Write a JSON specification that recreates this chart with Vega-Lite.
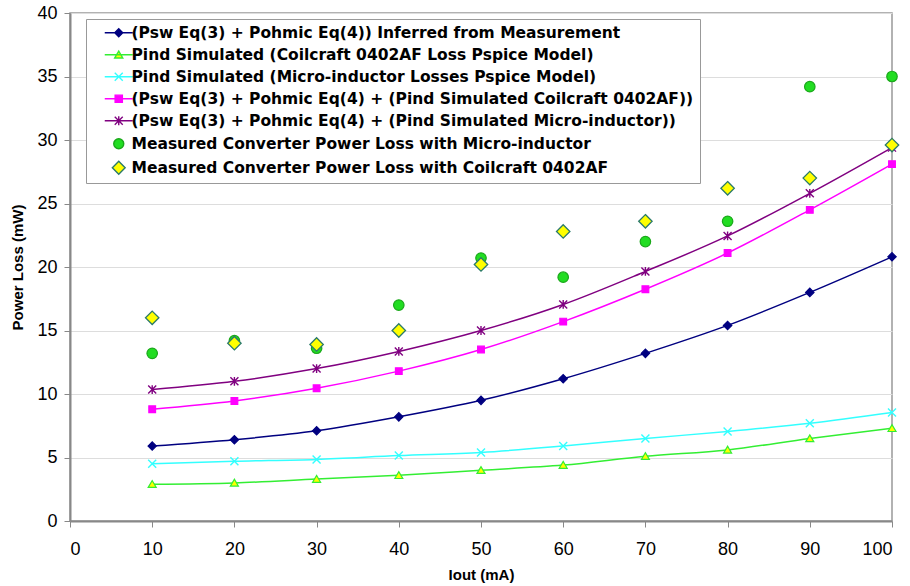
{
  "$schema": "https://vega.github.io/schema/vega-lite/v6.json",
  "width": 822,
  "height": 508,
  "autosize": {"type": "none"},
  "padding": {"left": 70, "top": 13, "right": 18, "bottom": 65},
  "background": "white",
  "config": {
    "font": "Liberation Sans",
    "view": {"stroke": "#999999", "strokeWidth": 1.5},
    "axis": {"labelFont": "Liberation Sans", "titleFont": "Liberation Sans", "labelColor": "#000000", "titleColor": "#000000"}
  },
  "data": {"values": [
    {"series": "(Psw Eq(3) + Pohmic Eq(4)) Inferred from Measurement", "x": 10, "y": 5.9},
    {"series": "(Psw Eq(3) + Pohmic Eq(4)) Inferred from Measurement", "x": 20, "y": 6.4},
    {"series": "(Psw Eq(3) + Pohmic Eq(4)) Inferred from Measurement", "x": 30, "y": 7.1},
    {"series": "(Psw Eq(3) + Pohmic Eq(4)) Inferred from Measurement", "x": 40, "y": 8.2},
    {"series": "(Psw Eq(3) + Pohmic Eq(4)) Inferred from Measurement", "x": 50, "y": 9.5},
    {"series": "(Psw Eq(3) + Pohmic Eq(4)) Inferred from Measurement", "x": 60, "y": 11.2},
    {"series": "(Psw Eq(3) + Pohmic Eq(4)) Inferred from Measurement", "x": 70, "y": 13.2},
    {"series": "(Psw Eq(3) + Pohmic Eq(4)) Inferred from Measurement", "x": 80, "y": 15.4},
    {"series": "(Psw Eq(3) + Pohmic Eq(4)) Inferred from Measurement", "x": 90, "y": 18.0},
    {"series": "(Psw Eq(3) + Pohmic Eq(4)) Inferred from Measurement", "x": 100, "y": 20.8},
    {"series": "Pind Simulated  (Coilcraft 0402AF Loss Pspice Model)", "x": 10, "y": 2.9},
    {"series": "Pind Simulated  (Coilcraft 0402AF Loss Pspice Model)", "x": 20, "y": 3.0},
    {"series": "Pind Simulated  (Coilcraft 0402AF Loss Pspice Model)", "x": 30, "y": 3.3},
    {"series": "Pind Simulated  (Coilcraft 0402AF Loss Pspice Model)", "x": 40, "y": 3.6},
    {"series": "Pind Simulated  (Coilcraft 0402AF Loss Pspice Model)", "x": 50, "y": 4.0},
    {"series": "Pind Simulated  (Coilcraft 0402AF Loss Pspice Model)", "x": 60, "y": 4.4},
    {"series": "Pind Simulated  (Coilcraft 0402AF Loss Pspice Model)", "x": 70, "y": 5.1},
    {"series": "Pind Simulated  (Coilcraft 0402AF Loss Pspice Model)", "x": 80, "y": 5.6},
    {"series": "Pind Simulated  (Coilcraft 0402AF Loss Pspice Model)", "x": 90, "y": 6.5},
    {"series": "Pind Simulated  (Coilcraft 0402AF Loss Pspice Model)", "x": 100, "y": 7.3},
    {"series": "Pind Simulated (Micro-inductor Losses Pspice Model)", "x": 10, "y": 4.5},
    {"series": "Pind Simulated (Micro-inductor Losses Pspice Model)", "x": 20, "y": 4.7},
    {"series": "Pind Simulated (Micro-inductor Losses Pspice Model)", "x": 30, "y": 4.85},
    {"series": "Pind Simulated (Micro-inductor Losses Pspice Model)", "x": 40, "y": 5.15},
    {"series": "Pind Simulated (Micro-inductor Losses Pspice Model)", "x": 50, "y": 5.4},
    {"series": "Pind Simulated (Micro-inductor Losses Pspice Model)", "x": 60, "y": 5.9},
    {"series": "Pind Simulated (Micro-inductor Losses Pspice Model)", "x": 70, "y": 6.5},
    {"series": "Pind Simulated (Micro-inductor Losses Pspice Model)", "x": 80, "y": 7.05},
    {"series": "Pind Simulated (Micro-inductor Losses Pspice Model)", "x": 90, "y": 7.7},
    {"series": "Pind Simulated (Micro-inductor Losses Pspice Model)", "x": 100, "y": 8.55},
    {"series": "(Psw Eq(3) + Pohmic Eq(4) + (Pind Simulated Coilcraft 0402AF))", "x": 10, "y": 8.8},
    {"series": "(Psw Eq(3) + Pohmic Eq(4) + (Pind Simulated Coilcraft 0402AF))", "x": 20, "y": 9.45},
    {"series": "(Psw Eq(3) + Pohmic Eq(4) + (Pind Simulated Coilcraft 0402AF))", "x": 30, "y": 10.45},
    {"series": "(Psw Eq(3) + Pohmic Eq(4) + (Pind Simulated Coilcraft 0402AF))", "x": 40, "y": 11.8},
    {"series": "(Psw Eq(3) + Pohmic Eq(4) + (Pind Simulated Coilcraft 0402AF))", "x": 50, "y": 13.5},
    {"series": "(Psw Eq(3) + Pohmic Eq(4) + (Pind Simulated Coilcraft 0402AF))", "x": 60, "y": 15.7},
    {"series": "(Psw Eq(3) + Pohmic Eq(4) + (Pind Simulated Coilcraft 0402AF))", "x": 70, "y": 18.25},
    {"series": "(Psw Eq(3) + Pohmic Eq(4) + (Pind Simulated Coilcraft 0402AF))", "x": 80, "y": 21.1},
    {"series": "(Psw Eq(3) + Pohmic Eq(4) + (Pind Simulated Coilcraft 0402AF))", "x": 90, "y": 24.5},
    {"series": "(Psw Eq(3) + Pohmic Eq(4) + (Pind Simulated Coilcraft 0402AF))", "x": 100, "y": 28.1},
    {"series": "(Psw Eq(3) + Pohmic Eq(4) + (Pind Simulated Micro-inductor))", "x": 10, "y": 10.35},
    {"series": "(Psw Eq(3) + Pohmic Eq(4) + (Pind Simulated Micro-inductor))", "x": 20, "y": 11.0},
    {"series": "(Psw Eq(3) + Pohmic Eq(4) + (Pind Simulated Micro-inductor))", "x": 30, "y": 12.0},
    {"series": "(Psw Eq(3) + Pohmic Eq(4) + (Pind Simulated Micro-inductor))", "x": 40, "y": 13.35},
    {"series": "(Psw Eq(3) + Pohmic Eq(4) + (Pind Simulated Micro-inductor))", "x": 50, "y": 15.0},
    {"series": "(Psw Eq(3) + Pohmic Eq(4) + (Pind Simulated Micro-inductor))", "x": 60, "y": 17.05},
    {"series": "(Psw Eq(3) + Pohmic Eq(4) + (Pind Simulated Micro-inductor))", "x": 70, "y": 19.65},
    {"series": "(Psw Eq(3) + Pohmic Eq(4) + (Pind Simulated Micro-inductor))", "x": 80, "y": 22.45},
    {"series": "(Psw Eq(3) + Pohmic Eq(4) + (Pind Simulated Micro-inductor))", "x": 90, "y": 25.8},
    {"series": "(Psw Eq(3) + Pohmic Eq(4) + (Pind Simulated Micro-inductor))", "x": 100, "y": 29.4},
    {"series": "Measured Converter Power Loss with Micro-inductor", "x": 10, "y": 13.2},
    {"series": "Measured Converter Power Loss with Micro-inductor", "x": 20, "y": 14.2},
    {"series": "Measured Converter Power Loss with Micro-inductor", "x": 30, "y": 13.6},
    {"series": "Measured Converter Power Loss with Micro-inductor", "x": 40, "y": 17.0},
    {"series": "Measured Converter Power Loss with Micro-inductor", "x": 50, "y": 20.7},
    {"series": "Measured Converter Power Loss with Micro-inductor", "x": 60, "y": 19.2},
    {"series": "Measured Converter Power Loss with Micro-inductor", "x": 70, "y": 22.0},
    {"series": "Measured Converter Power Loss with Micro-inductor", "x": 80, "y": 23.6},
    {"series": "Measured Converter Power Loss with Micro-inductor", "x": 90, "y": 34.2},
    {"series": "Measured Converter Power Loss with Micro-inductor", "x": 100, "y": 35.0},
    {"series": "Measured Converter Power Loss with Coilcraft 0402AF", "x": 10, "y": 16.0},
    {"series": "Measured Converter Power Loss with Coilcraft 0402AF", "x": 20, "y": 14.0},
    {"series": "Measured Converter Power Loss with Coilcraft 0402AF", "x": 30, "y": 13.9},
    {"series": "Measured Converter Power Loss with Coilcraft 0402AF", "x": 40, "y": 15.0},
    {"series": "Measured Converter Power Loss with Coilcraft 0402AF", "x": 50, "y": 20.2},
    {"series": "Measured Converter Power Loss with Coilcraft 0402AF", "x": 60, "y": 22.8},
    {"series": "Measured Converter Power Loss with Coilcraft 0402AF", "x": 70, "y": 23.6},
    {"series": "Measured Converter Power Loss with Coilcraft 0402AF", "x": 80, "y": 26.2},
    {"series": "Measured Converter Power Loss with Coilcraft 0402AF", "x": 90, "y": 27.0},
    {"series": "Measured Converter Power Loss with Coilcraft 0402AF", "x": 100, "y": 29.6}
  ]},
  "encoding": {
    "x": {"field": "x", "type": "quantitative", "title": "Iout (mA)",
      "scale": {"domain": [0, 100], "nice": false},
      "axis": {"values": [0,10,20,30,40,50,60,70,80,90,100], "grid": false, "domainColor": "#888888", "domainWidth": 2, "tickColor": "#888888", "tickSize": 6, "labelFontSize": 18, "labelPadding": 13, "titleFontSize": 15, "titleFontWeight": "bold", "titlePadding": 9}},
    "y": {"field": "y", "type": "quantitative", "title": "Power Loss (mW)",
      "scale": {"domain": [0, 40], "nice": false},
      "axis": {"values": [0,5,10,15,20,25,30,35,40], "grid": true, "gridColor": "#dddddd", "domainColor": "#888888", "domainWidth": 2, "tickColor": "#888888", "tickSize": 6, "labelFontSize": 18, "labelPadding": 7, "titleFontSize": 15, "titleFontWeight": "bold", "titlePadding": 11}}
  },
  "layer": [
    {
      "transform": [{"filter": {"not": {"field": "series", "oneOf": ["Measured Converter Power Loss with Micro-inductor", "Measured Converter Power Loss with Coilcraft 0402AF"]}}}],
      "mark": {"type": "line", "interpolate": "monotone", "strokeWidth": 1.5},
      "encoding": {
        "stroke": {"field": "series", "type": "nominal",
          "scale": {"domain": [
            "(Psw Eq(3) + Pohmic Eq(4)) Inferred from Measurement",
            "Pind Simulated  (Coilcraft 0402AF Loss Pspice Model)",
            "Pind Simulated (Micro-inductor Losses Pspice Model)",
            "(Psw Eq(3) + Pohmic Eq(4) + (Pind Simulated Coilcraft 0402AF))",
            "(Psw Eq(3) + Pohmic Eq(4) + (Pind Simulated Micro-inductor))",
            "Measured Converter Power Loss with Micro-inductor",
            "Measured Converter Power Loss with Coilcraft 0402AF"],
            "range": ["#000080", "#33ee33", "#33ffff", "#ff00ff", "#800080", "#1aa81a", "#2a7a6a"]},
          "legend": {"orient": "none", "legendX": 16, "legendY": 6, "title": null,
            "strokeColor": "#999999", "fillColor": "white", "padding": 6,
            "labelFont": "DejaVu Sans", "labelFontSize": 15.5, "labelFontWeight": "bold", "labelColor": "#000000",
            "labelLimit": 700, "rowPadding": 5, "symbolOffset": 19, "labelOffset": 5,
            "encode": {"symbols": {"update": {
              "size": {"value": 64},
              "strokeWidth": {"value": 1.4},
              "shape": {"signal": "indexof(datum.value,'Inferred')>=0 ? 'M-3.5,0L3.5,0M0,-1L1,0L0,1L-1,0Z' : indexof(datum.value,'0402AF Loss')>=0 ? 'M-3.5,0L3.5,0M-1,0.8L0,-0.9L1,0.8Z' : indexof(datum.value,'Losses Pspice')>=0 ? 'M-3.5,0L3.5,0M-1,-1L1,1M-1,1L1,-1' : indexof(datum.value,'Simulated Coilcraft')>=0 ? 'M-3.5,0L3.5,0M-0.9,-0.9L0.9,-0.9L0.9,0.9L-0.9,0.9Z' : indexof(datum.value,'Simulated Micro')>=0 ? 'M-3.5,0L3.5,0M-1,-1L1,1M-1,1L1,-1M0,-1.1L0,1.1' : indexof(datum.value,'with Micro')>=0 ? 'M-1.25,0A1.25,1.25,0,1,1,1.25,0A1.25,1.25,0,1,1,-1.25,0Z' : 'M0,-1.6L1.6,0L0,1.6L-1.6,0Z'"}
            }}}
          }}
      }
    },
    {
      "encoding": {
        "fill": {"field": "series", "type": "nominal",
          "scale": {"domain": [
            "(Psw Eq(3) + Pohmic Eq(4)) Inferred from Measurement",
            "Pind Simulated  (Coilcraft 0402AF Loss Pspice Model)",
            "Pind Simulated (Micro-inductor Losses Pspice Model)",
            "(Psw Eq(3) + Pohmic Eq(4) + (Pind Simulated Coilcraft 0402AF))",
            "(Psw Eq(3) + Pohmic Eq(4) + (Pind Simulated Micro-inductor))",
            "Measured Converter Power Loss with Micro-inductor",
            "Measured Converter Power Loss with Coilcraft 0402AF"],
            "range": ["#000080", "#ffff00", "#33ffff", "#ff00ff", "#800080", "#22dd22", "#ffff00"]}},
        "stroke": {"field": "series", "type": "nominal"}
      },
      "layer": [
        {"transform": [{"filter": {"field": "series", "equal": "(Psw Eq(3) + Pohmic Eq(4)) Inferred from Measurement"}}],
         "mark": {"type": "point", "filled": true, "opacity": 1, "strokeWidth": 1.2, "shape": "diamond", "size": 70}},
        {"transform": [{"filter": {"field": "series", "equal": "Pind Simulated  (Coilcraft 0402AF Loss Pspice Model)"}}],
         "mark": {"type": "point", "filled": true, "opacity": 1, "strokeWidth": 1.2, "shape": "M-1,0.8L0,-0.9L1,0.8Z", "size": 64}},
        {"transform": [{"filter": {"field": "series", "equal": "Pind Simulated (Micro-inductor Losses Pspice Model)"}}],
         "mark": {"type": "point", "filled": true, "opacity": 1, "strokeWidth": 1.4, "shape": "M-1,-1L1,1M-1,1L1,-1", "size": 64}},
        {"transform": [{"filter": {"field": "series", "equal": "(Psw Eq(3) + Pohmic Eq(4) + (Pind Simulated Coilcraft 0402AF))"}}],
         "mark": {"type": "point", "filled": true, "opacity": 1, "strokeWidth": 1.2, "shape": "square", "size": 45}},
        {"transform": [{"filter": {"field": "series", "equal": "(Psw Eq(3) + Pohmic Eq(4) + (Pind Simulated Micro-inductor))"}}],
         "mark": {"type": "point", "filled": true, "opacity": 1, "strokeWidth": 1.4, "shape": "M-1,-1L1,1M-1,1L1,-1M0,-1.1L0,1.1", "size": 64}},
        {"transform": [{"filter": {"field": "series", "equal": "Measured Converter Power Loss with Micro-inductor"}}],
         "mark": {"type": "point", "filled": true, "opacity": 1, "strokeWidth": 1.2, "shape": "circle", "size": 110}},
        {"transform": [{"filter": {"field": "series", "equal": "Measured Converter Power Loss with Coilcraft 0402AF"}}],
         "mark": {"type": "point", "filled": true, "opacity": 1, "strokeWidth": 1.3, "shape": "M0,-1L1,0L0,1L-1,0Z", "size": 180}}
      ]
    }
  ]
}
